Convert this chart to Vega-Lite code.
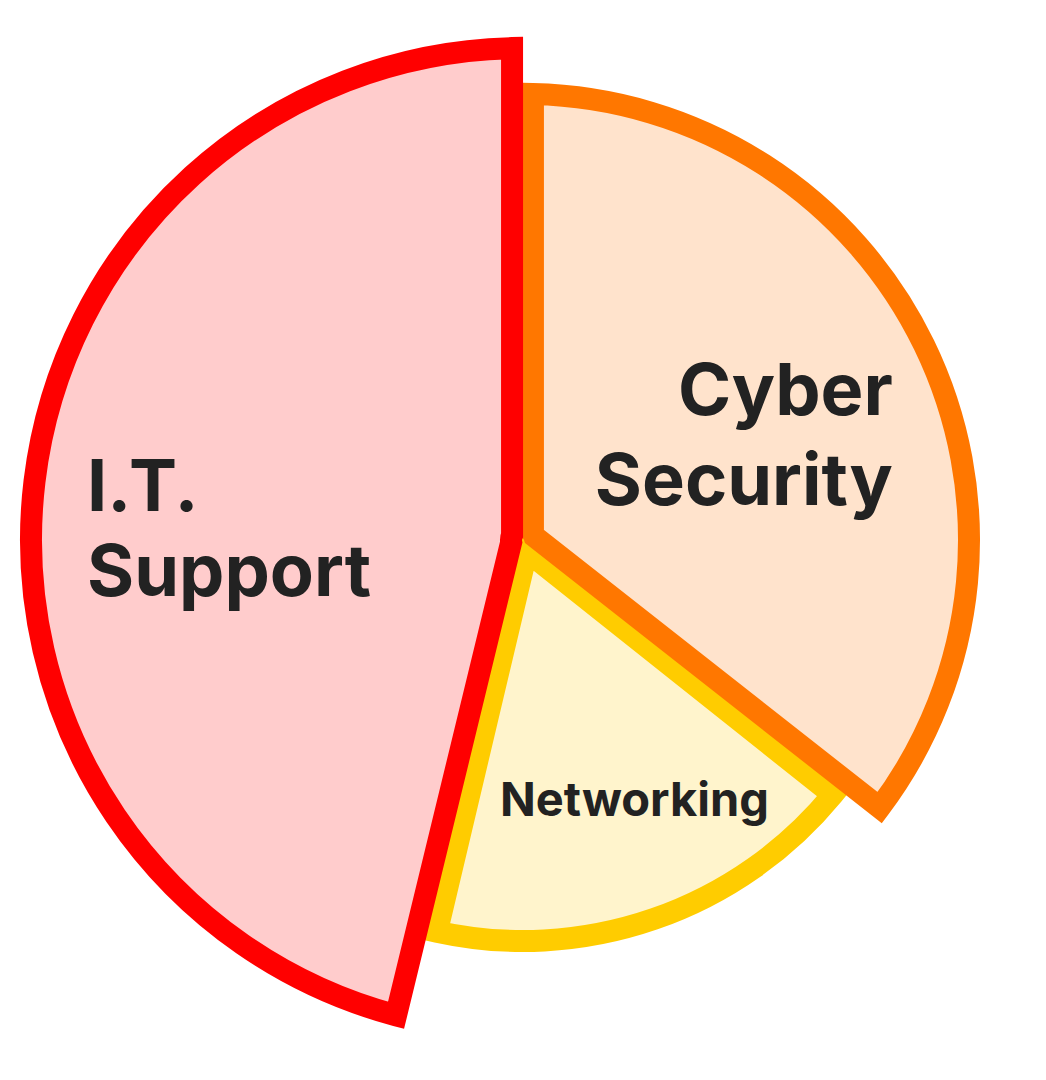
{
  "$schema": "https://vega.github.io/schema/vega-lite/v6.json",
  "width": 1046,
  "height": 1080,
  "autosize": {"type": "none"},
  "padding": 0,
  "background": "white",
  "config": {"view": {"stroke": null}},
  "data": {
    "values": [
      {"category": "Networking", "label": "Networking", "share": 18.2, "score": 80.2, "rank": 2},
      {"category": "Cyber Security", "label": "Cyber\nSecurity", "share": 35.6, "score": 89.2, "rank": 1},
      {"category": "I.T. Support", "label": "I.T.\nSupport", "share": 46.2, "score": 98.4, "rank": 3}
    ]
  },
  "transform": [
    {"stack": "share", "groupby": [], "sort": [{"field": "rank", "order": "ascending"}], "as": ["share_from", "share_to"]}
  ],
  "layer": [
    {
      "mark": {"type": "arc", "padAngle": 0.0445, "radius2": 12, "strokeWidth": 22, "strokeJoin": "miter"},
      "encoding": {
        "theta": {"field": "share_from", "type": "quantitative", "scale": {"domain": [0, 100]}},
        "theta2": {"field": "share_to"},
        "radius": {"field": "score", "type": "quantitative", "scale": {"type": "linear", "domain": [0, 100], "range": [0, 500], "zero": true}},
        "fill": {"field": "category", "type": "nominal", "legend": null,
          "scale": {"domain": ["Cyber Security", "Networking", "I.T. Support"], "range": ["#FFE3CC", "#FFF4CC", "#FFCCCC"]}},
        "stroke": {"field": "category", "type": "nominal", "legend": null,
          "scale": {"domain": ["Cyber Security", "Networking", "I.T. Support"], "range": ["#FF7700", "#FFCC00", "#FF0000"]}}
      }
    },
    {
      "mark": {"type": "text", "radius": 410, "align": "right", "baseline": "alphabetic", "dx": 1, "dy": 54, "font": "Inter", "fontWeight": "bold", "fontSize": 72, "lineHeight": 90, "lineBreak": "\n", "color": "#222222"},
      "encoding": {
        "theta": {"field": "share", "type": "quantitative", "stack": true},
        "order": {"field": "rank", "type": "quantitative"},
        "text": {"condition": {"test": "datum.category === 'Cyber Security'", "field": "label", "type": "nominal"}, "value": ""}
      }
    },
    {
      "mark": {"type": "text", "radius": 435, "align": "left", "baseline": "alphabetic", "dx": -4, "dy": 23, "font": "Inter", "fontWeight": "bold", "fontSize": 72, "lineHeight": 85, "lineBreak": "\n", "color": "#222222"},
      "encoding": {
        "theta": {"field": "share", "type": "quantitative", "stack": true},
        "order": {"field": "rank", "type": "quantitative"},
        "text": {"condition": {"test": "datum.category === 'I.T. Support'", "field": "label", "type": "nominal"}, "value": ""}
      }
    },
    {
      "mark": {"type": "text", "radius": 292, "align": "center", "baseline": "alphabetic", "dx": 16, "dy": 0, "font": "Inter", "fontWeight": "bold", "fontSize": 47, "lineBreak": "\n", "color": "#222222"},
      "encoding": {
        "theta": {"field": "share", "type": "quantitative", "stack": true},
        "order": {"field": "rank", "type": "quantitative"},
        "text": {"condition": {"test": "datum.category === 'Networking'", "field": "label", "type": "nominal"}, "value": ""}
      }
    }
  ]
}
